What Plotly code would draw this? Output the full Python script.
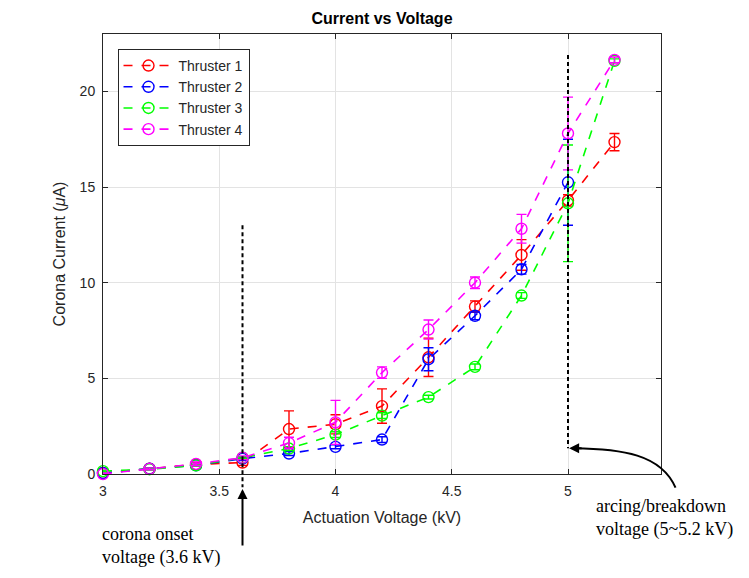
import plotly.graph_objects as go

# ---------------- data ----------------
voltage = [3.0, 3.2, 3.4, 3.6, 3.8, 4.0, 4.2, 4.4, 4.6, 4.8, 5.0, 5.2]

thruster1 = [0.05, 0.28, 0.50, 0.60, 2.35, 2.60, 3.55, 6.10, 8.75, 11.45, 14.30, 17.35]
err1 = [0.05, 0.05, 0.10, 0.15, 0.95, 0.50, 0.90, 1.00, 0.30, 0.80, 0.30, 0.45]

thruster2 = [0.05, 0.28, 0.45, 0.80, 1.07, 1.42, 1.80, 6.00, 8.27, 10.70, 15.25, None]
err2 = [0.05, 0.05, 0.05, 0.10, 0.10, 0.10, 0.15, 0.60, 0.20, 0.25, 2.25, None]

thruster3 = [0.15, 0.25, 0.45, 0.85, 1.33, 2.06, 3.05, 4.02, 5.60, 9.33, 14.15, 21.60]
err3 = [0.05, 0.05, 0.05, 0.05, 0.10, 0.15, 0.15, 0.10, 0.15, 0.15, 3.05, 0.10]

thruster4 = [0.00, 0.27, 0.53, 0.85, 1.62, 2.70, 5.30, 7.55, 10.00, 12.82, 17.80, 21.65]
err4 = [0.05, 0.05, 0.10, 0.10, 0.30, 1.15, 0.30, 0.50, 0.30, 0.75, 1.90, 0.15]

names = ["Thruster 1", "Thruster 2", "Thruster 3", "Thruster 4"]
colors = ["#FF0000", "#0000FF", "#00FF00", "#FF00FF"]
series = [thruster1, thruster2, thruster3, thruster4]
errors = [err1, err2, err3, err4]

x_ticks = [3, 3.5, 4, 4.5, 5]
x_tick_labels = ["3", "3.5", "4", "4.5", "5"]
y_ticks = [0, 5, 10, 15, 20]
y_tick_labels = ["0", "5", "10", "15", "20"]

X_RANGE = [3.0, 5.4]
Y_RANGE = [0, 23]

onset_v = 3.6
breakdown_v = 5.0

# ---------------- figure ----------------
fig = go.Figure()
for name, col, ys, es in zip(names, colors, series, errors):
    xs = [v for v, y in zip(voltage, ys) if y is not None]
    yv = [y for y in ys if y is not None]
    ev = [e for e, y in zip(es, ys) if y is not None]
    fig.add_trace(go.Scatter(
        x=xs, y=yv, name=name, mode="lines+markers",
        line=dict(color=col, width=1.6, dash="dash"),
        marker=dict(symbol="circle-open", size=11, color=col, line=dict(width=1.4, color=col)),
        error_y=dict(type="data", array=ev, visible=True, color=col, thickness=1.4, width=5),
        cliponaxis=False,
    ))


def px(v):
    return (v - X_RANGE[0]) / (X_RANGE[1] - X_RANGE[0])


def py(v):
    return (v - Y_RANGE[0]) / (Y_RANGE[1] - Y_RANGE[0])


shapes = [
    # corona onset dashed line (extends below axis)
    dict(type="line", xref="paper", yref="paper", x0=px(onset_v), x1=px(onset_v),
         y0=py(13.0), y1=-0.03, line=dict(color="black", width=2, dash="4px,3px")),
    # breakdown dashed line
    dict(type="line", xref="paper", yref="paper", x0=px(breakdown_v), x1=px(breakdown_v),
         y0=py(21.9), y1=py(1.35), line=dict(color="black", width=2, dash="4px,3px")),
    # curved arrow body
    dict(type="path", xref="paper", yref="paper",
         path=f"M 1.026,-0.031 C 1.0,0.045 0.93,{py(1.32):.4f} {px(breakdown_v)+0.01:.4f},{py(1.35):.4f}",
         line=dict(color="black", width=2)),
]

annotations = [
    dict(x=px(onset_v), y=-0.034, xref="paper", yref="paper", ax=0, ay=58,
         showarrow=True, arrowhead=2, arrowsize=1, arrowwidth=2, arrowcolor="black", text=""),
    dict(x=px(breakdown_v) + 0.002, y=py(1.35), xref="paper", yref="paper", ax=14, ay=0,
         showarrow=True, arrowhead=2, arrowsize=1, arrowwidth=2, arrowcolor="black", text="",
         standoff=0),
    dict(x=-0.006, y=-0.108, xref="paper", yref="paper", xanchor="left", yanchor="top",
         align="left", showarrow=False,
         text="corona onset<br>voltage (3.6 kV)",
         font=dict(family="Liberation Serif", size=18, color="black")),
    dict(x=0.88, y=-0.046, xref="paper", yref="paper", xanchor="left", yanchor="top",
         align="left", showarrow=False,
         text="arcing/breakdown<br>voltage (5~5.2 kV)",
         font=dict(family="Liberation Serif", size=18, color="black")),
]

axis_common = dict(
    showline=True, linecolor="#262626", linewidth=1, mirror="ticks",
    ticks="inside", ticklen=5, tickcolor="#262626",
    showgrid=True, gridcolor="#e3e3e3", gridwidth=1, zeroline=False,
    tickfont=dict(family="Liberation Sans", size=14, color="#262626"),
    ticklabelstandoff=4,
)

fig.update_layout(
    width=749, height=578,
    margin=dict(l=103, r=88, t=34, b=104),
    paper_bgcolor="white", plot_bgcolor="white",
    title=dict(text="<b>Current vs Voltage</b>", x=382 / 749, xanchor="center",
               y=1 - 18 / 578, yanchor="middle",
               font=dict(family="Liberation Sans", size=16, color="black")),
    xaxis=dict(range=X_RANGE, tickvals=x_ticks, ticktext=x_tick_labels,
               title=dict(text="Actuation Voltage (kV)", standoff=14,
                          font=dict(family="Liberation Sans", size=16, color="#262626")),
               **axis_common),
    yaxis=dict(range=Y_RANGE, tickvals=y_ticks, ticktext=y_tick_labels,
               title=dict(text="Corona Current (<i>μ</i>A)", standoff=10,
                          font=dict(family="Liberation Sans", size=16, color="#262626")),
               **axis_common),
    legend=dict(x=0.026, y=0.966, xanchor="left", yanchor="top",
                bgcolor="white", bordercolor="#262626", borderwidth=1,
                font=dict(family="Liberation Sans", size=14, color="#262626"),
                itemwidth=50, tracegroupgap=0),
    shapes=shapes,
    annotations=annotations,
    showlegend=True,
)

fig.write_html("out.html")
